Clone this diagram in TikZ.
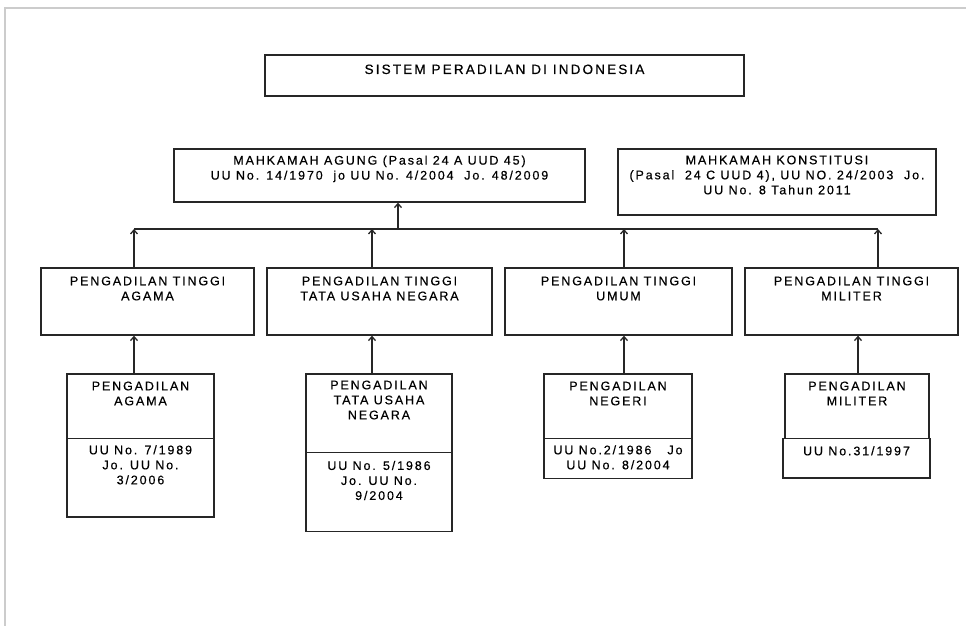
\documentclass[tikz,border=0pt]{standalone}
\usepackage{fontspec}
\setmainfont{Liberation Sans}
\newfontfamily\chartfont[LetterSpace=15,FakeBold=0.5]{Liberation Sans}
\newfontfamily\titlefont[LetterSpace=16,FakeBold=0.5]{Liberation Sans}
\usetikzlibrary{positioning,arrows.meta}

\begin{document}
\begin{tikzpicture}[x=1pt, y=-1pt,
  box/.style={draw=black!85, line width=1.3pt, inner sep=0pt},
  txt/.style={align=center, inner sep=0pt, text=black, font=\chartfont\fontsize{12.5}{15}\selectfont},
  wire/.style={draw=black!85, line width=1.3pt},
  arr/.style={wire, -{Straight Barb[length=4pt,width=7pt]}}]
%\draw [help lines] (0,0) grid (966,626);
\useasboundingbox (0,0) rectangle (966,626);

% page edge
\draw [black!20, line width=1.5pt] (5,626) -- (5,8) -- (966,8);

% top
\node [box, minimum width=479pt, minimum height=41pt] (title) at (504.5,75.5) {};
\node [txt, font=\titlefont\fontsize{13.5}{16}\selectfont, below=10pt of title.north] (titletxt) {SISTEM PERADILAN DI INDONESIA};

\node [box, minimum width=411pt, minimum height=53pt] (ma) at (379.5,175.5) {};
\node [txt, below=7pt of ma.north] (matxt) {MAHKAMAH AGUNG (Pasal 24 A UUD 45)\\
  UU No. 14/1970~ jo UU No. 4/2004~ Jo. 48/2009};

\node [box, minimum width=318pt, minimum height=66pt] (mk) at (777,182) {};
\node [txt, below=7pt of mk.north] (mktxt) {MAHKAMAH KONSTITUSI\\
  (Pasal~ 24 C UUD 4), UU NO. 24/2003~ Jo.\\ UU No. 8 Tahun 2011};

% pengadilan tinggi
\node [box, minimum width=213pt, minimum height=67pt] (pta) at (147.5,301.5) {};
\node [txt, below=9pt of pta.north] (ptatxt) {PENGADILAN TINGGI\\ AGAMA};

\node [box, minimum width=225pt, minimum height=67pt] (pttun) at (379.5,301.5) {};
\node [txt, below=9pt of pttun.north] (pttuntxt) {PENGADILAN TINGGI\\ TATA USAHA NEGARA};

\node [box, minimum width=227pt, minimum height=67pt] (ptu) at (618.5,301.5) {};
\node [txt, below=9pt of ptu.north] (ptutxt) {PENGADILAN TINGGI\\ UMUM};

\node [box, minimum width=213pt, minimum height=67pt] (ptm) at (851.5,301.5) {};
\node [txt, below=9pt of ptm.north] (ptmtxt) {PENGADILAN TINGGI\\ MILITER};

% pengadilan tingkat pertama
\node [box, minimum width=147pt, minimum height=64.7pt] (pa) at (140.5,406.35) {};
\node [txt, below=8pt of pa.north] (patxt) {PENGADILAN\\ AGAMA};
\node [box, minimum width=147pt, minimum height=78.3pt] (pauu) at (140.5,477.85) {};
\node [txt, below=7pt of pauu.north] (pauutxt) {UU No. 7/1989\\ Jo. UU No.\\ 3/2006};

\node [box, minimum width=146pt, minimum height=78.3pt] (ptun) at (379,413.15) {};
\node [txt, below=7pt of ptun.north] (ptuntxt) {PENGADILAN\\ TATA USAHA\\ NEGARA};
\node [box, minimum width=146pt, minimum height=79.4pt] (ptunuu) at (379,492) {};
\node [txt, below=9pt of ptunuu.north] (ptunuutxt) {UU No. 5/1986\\ Jo. UU No.\\ 9/2004};

\node [box, minimum width=148pt, minimum height=64.7pt] (pn) at (618,406.35) {};
\node [txt, below=8pt of pn.north] (pntxt) {PENGADILAN\\ NEGERI};
\node [box, minimum width=148pt, minimum height=39.6pt] (pnuu) at (618,458.5) {};
\node [txt, below=7pt of pnuu.north] (pnuutxt) {UU No.2/1986~~ Jo\\ UU No. 8/2004};

\node [box, minimum width=144pt, minimum height=64.7pt] (pm) at (857,406.35) {};
\node [txt, below=8pt of pm.north] (pmtxt) {PENGADILAN\\ MILITER};
\node [box, minimum width=147pt, minimum height=39.3pt] (pmuu) at (856.5,458.35) {};
\node [txt, below=8pt of pmuu.north] (pmuutxt) {UU No.31/1997};

% connectors
\coordinate (b1) at (134,229);
\coordinate (b2) at (372,229);
\coordinate (b3) at (624,229);
\coordinate (b4) at (878,229);
\coordinate (bm) at (398,229);
\coordinate (c4) at (858,229);

\draw [wire] (b1) -- (b4);
\draw [arr] (bm) -- (bm |- ma.south);

\draw [arr] (b1 |- pta.north) -- (b1);
\draw [arr] (b2 |- pttun.north) -- (b2);
\draw [arr] (b3 |- ptu.north) -- (b3);
\draw [arr] (b4 |- ptm.north) -- (b4);

\draw [arr] (b1 |- pa.north) -- (b1 |- pta.south);
\draw [arr] (b2 |- ptun.north) -- (b2 |- pttun.south);
\draw [arr] (b3 |- pn.north) -- (b3 |- ptu.south);
\draw [arr] (c4 |- pm.north) -- (c4 |- ptm.south);

\end{tikzpicture}
\end{document}
